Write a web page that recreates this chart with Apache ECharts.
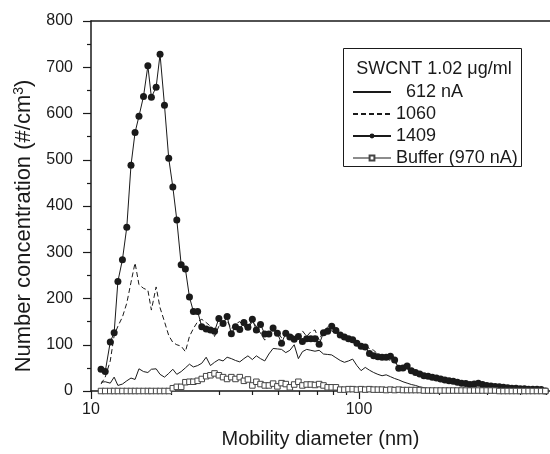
<!DOCTYPE html>
<html>
<head>
<meta charset="utf-8">
<script src="https://cdn.jsdelivr.net/npm/echarts@6/dist/echarts.min.js"></script>
<style>html,body{margin:0;padding:0;background:#fff}#c{width:550px;height:454px}</style>
</head>
<body>
<div id="c"></div>
<script>
// Mobility diameters (nm), SMPS channel midpoints
const diameters = [10.9,11.3,11.8,12.2,12.6,13.1,13.6,14.1,14.6,15.1,15.7,16.3,16.8,17.5,18.1,18.8,19.5,20.2,20.9,21.7,
  22.5,23.3,24.1,25.0,25.9,26.9,27.9,28.9,30.0,31.1,32.2,33.4,34.6,35.9,37.2,38.5,40.0,41.4,42.9,44.5,
  46.1,47.8,49.6,51.4,53.3,55.2,57.3,59.4,61.5,63.8,66.1,68.5,71.0,73.7,76.4,79.1,82.0,85.1,88.2,91.4,
  94.7,98.2,101.8,105.5,109.4,113.4,117.6,121.9,126.3,131.0,135.8,140.7,145.9,151.2,156.8,162.5,168.5,174.7,181.1,187.7,
  194.6,201.7,209.1,216.7,224.7,232.9,241.4,250.3,259.5,269.0,278.8,289.0,299.6,310.6,322.0,333.8,346.0,358.7,371.8,385.4,
  399.5,414.2,429.4,445.1,461.4,478.3,495.8];

const s612 = [19,20,17,30,12,15,22,28,25,48,42,40,47,48,36,30,38,47,36,42,
  50,58,52,55,60,73,55,62,68,65,73,70,66,63,70,76,68,76,70,65,
  80,92,91,90,83,88,100,70,85,90,88,86,88,80,79,78,72,66,62,65,
  69,55,44,51,45,40,36,33,35,31,27,24,20,17,14,12,9,7,5,4,
  3,2,2,1,1,1,1,1,0,0,0,0,0,0,0,0,0,0,0,0,
  0,0,0,0,0,0,0];

const s1060 = [15,30,65,120,140,160,190,235,277,230,222,218,175,225,180,150,120,105,100,97,
  85,118,135,150,155,148,140,118,140,150,152,135,145,150,140,135,150,140,125,110,
  125,130,128,115,120,125,118,115,130,118,128,132,110,130,138,130,125,120,115,110,
  112,105,100,98,92,88,80,74,70,66,62,55,50,48,42,38,35,32,30,28,
  26,24,22,20,19,17,16,14,14,16,13,12,11,10,9,8,7,6,6,5,
  5,4,4,4,3,2,0];

const s1409 = [47,42,106,126,237,284,354,488,559,594,637,703,635,657,728,618,503,441,370,273,
  264,203,172,172,139,134,132,129,157,146,161,124,139,133,148,138,155,132,144,123,
  123,136,125,103,125,117,112,118,107,113,113,113,101,126,129,140,131,121,117,113,
  111,103,97,95,81,76,74,73,73,75,67,49,50,54,44,40,37,33,32,30,
  28,26,24,22,21,19,17,16,14,15,17,14,12,11,10,9,8,7,6,6,
  5,5,4,4,4,3,0];

const sBuffer = [0,0,0,0,0,0,0,0,0,0,0,0,0,0,0,0,0,6,9,9,
  19,20,20,22,26,32,34,38,34,30,26,30,26,30,22,25,12,20,15,12,
  12,16,10,17,15,8,14,20,12,14,14,13,15,12,8,8,8,3,3,4,
  4,3,4,3,4,3,3,3,2,3,2,3,2,2,2,2,2,1,1,1,
  1,1,1,1,1,1,1,1,1,1,1,1,1,1,1,0,0,0,0,0,
  0,0,0,0,0,0,0];

const seriesNames = ['612 nA', '1060', '1409', 'Buffer (970 nA)'];
const majorXTicks = [10, 100];
const minorXTicks = [20,30,40,50,60,70,80,90,200,300,400,500];
const legendTitle = 'SWCNT 1.02 \u03bcg/ml';

const XMIN = 10, XMAX = 516;
const ink = '#1a1a1a';
const font = '"Liberation Sans", Arial, Helvetica, sans-serif';

function pairs(vals){ return diameters.map((d,i)=>[d, vals[i]]); }

const chart = echarts.init(document.getElementById('c'), null, {renderer:'canvas'});
const baseLog = {type:'log', logBase:10, min:XMIN, max:XMAX, gridIndex:0, splitLine:{show:false}};
chart.setOption({
  animation:false,
  backgroundColor:'#fff',
  grid:{left:91, top:21, right:0, bottom:62, containLabel:false},
  xAxis:[
    Object.assign({}, baseLog, {
      position:'bottom',
      name:'Mobility diameter (nm)', nameLocation:'middle', nameGap:38,
      nameTextStyle:{fontFamily:font, fontSize:20, color:ink},
      axisLine:{show:true, lineStyle:{color:ink, width:1.5}},
      axisTick:{show:true, length:8, inside:false, customValues:majorXTicks, lineStyle:{color:ink, width:1.2}},
      axisLabel:{show:true, customValues:majorXTicks, fontFamily:font, fontSize:16, color:ink, margin:11},
      minorTick:{show:false}
    }),
    Object.assign({}, baseLog, {
      position:'bottom',
      axisLine:{show:false},
      axisTick:{show:true, length:4, inside:false, customValues:minorXTicks, lineStyle:{color:ink, width:1.2}},
      axisLabel:{show:false}
    }),
    Object.assign({}, baseLog, {
      position:'top',
      axisLine:{show:true, lineStyle:{color:ink, width:1.5}},
      axisTick:{show:false},
      axisLabel:{show:false}
    })
  ],
  yAxis:{
    type:'value', min:0, max:800, interval:100,
    name:'Number concentration (#/cm{sup|3})',
    nameLocation:'middle', nameGap:48,
    nameTextStyle:{fontFamily:font, fontSize:22, color:ink, padding:[0,40,0,0],
      rich:{sup:{fontSize:14, verticalAlign:'top', padding:[0,0,10,0], fontFamily:font, color:ink}}},
    axisLine:{show:true, lineStyle:{color:ink, width:1.5}},
    axisTick:{show:true, length:8, inside:false, lineStyle:{color:ink, width:1.2}},
    minorTick:{show:true, splitNumber:2, length:4, lineStyle:{color:ink, width:1.2}},
    axisLabel:{fontFamily:font, fontSize:16, color:ink, margin:18},
    splitLine:{show:false}
  },
  legend:{
    orient:'vertical', left:352, top:83, padding:0, itemWidth:38, itemHeight:6, itemGap:4,
    textStyle:{fontFamily:font, fontSize:18, color:ink},
    formatter:function(n){ return n==='612 nA' ? '  612 nA' : n; },
    data:[
      {name:seriesNames[0], itemStyle:{opacity:0}},
      {name:seriesNames[1], itemStyle:{opacity:0}},
      {name:seriesNames[2]},
      {name:seriesNames[3], lineStyle:{width:1, color:ink}}
    ]
  },
  graphic:[
    {type:'rect', shape:{x:343.5, y:48.5, width:178, height:118}, style:{fill:'none', stroke:ink, lineWidth:1}, z:10},
    {type:'text', x:434, y:69, style:{text:legendTitle, fontFamily:font, fontSize:18, fill:ink, textAlign:'center', textVerticalAlign:'middle'}, z:10}
  ],
  series:[
    {name:seriesNames[0], type:'line', xAxisIndex:0, data:pairs(s612), showSymbol:false, symbol:'none',
     lineStyle:{color:ink, width:1}, itemStyle:{color:ink}, z:2},
    {name:seriesNames[1], type:'line', xAxisIndex:0, data:pairs(s1060), showSymbol:false, symbol:'none',
     lineStyle:{color:ink, width:1, type:[5,3]}, itemStyle:{color:ink}, z:2},
    {name:seriesNames[2], type:'line', xAxisIndex:0, data:pairs(s1409), symbol:'circle', symbolSize:7, showAllSymbol:true,
     lineStyle:{color:ink, width:1}, itemStyle:{color:ink, borderColor:ink, borderWidth:0}, z:3},
    {name:seriesNames[3], type:'line', xAxisIndex:0, data:pairs(sBuffer), symbol:'rect', symbolSize:5.5, showAllSymbol:true,
     lineStyle:{color:ink, width:1}, itemStyle:{color:'#fff', borderColor:'#444', borderWidth:1}, z:4}
  ]
});
</script>
</body>
</html>
